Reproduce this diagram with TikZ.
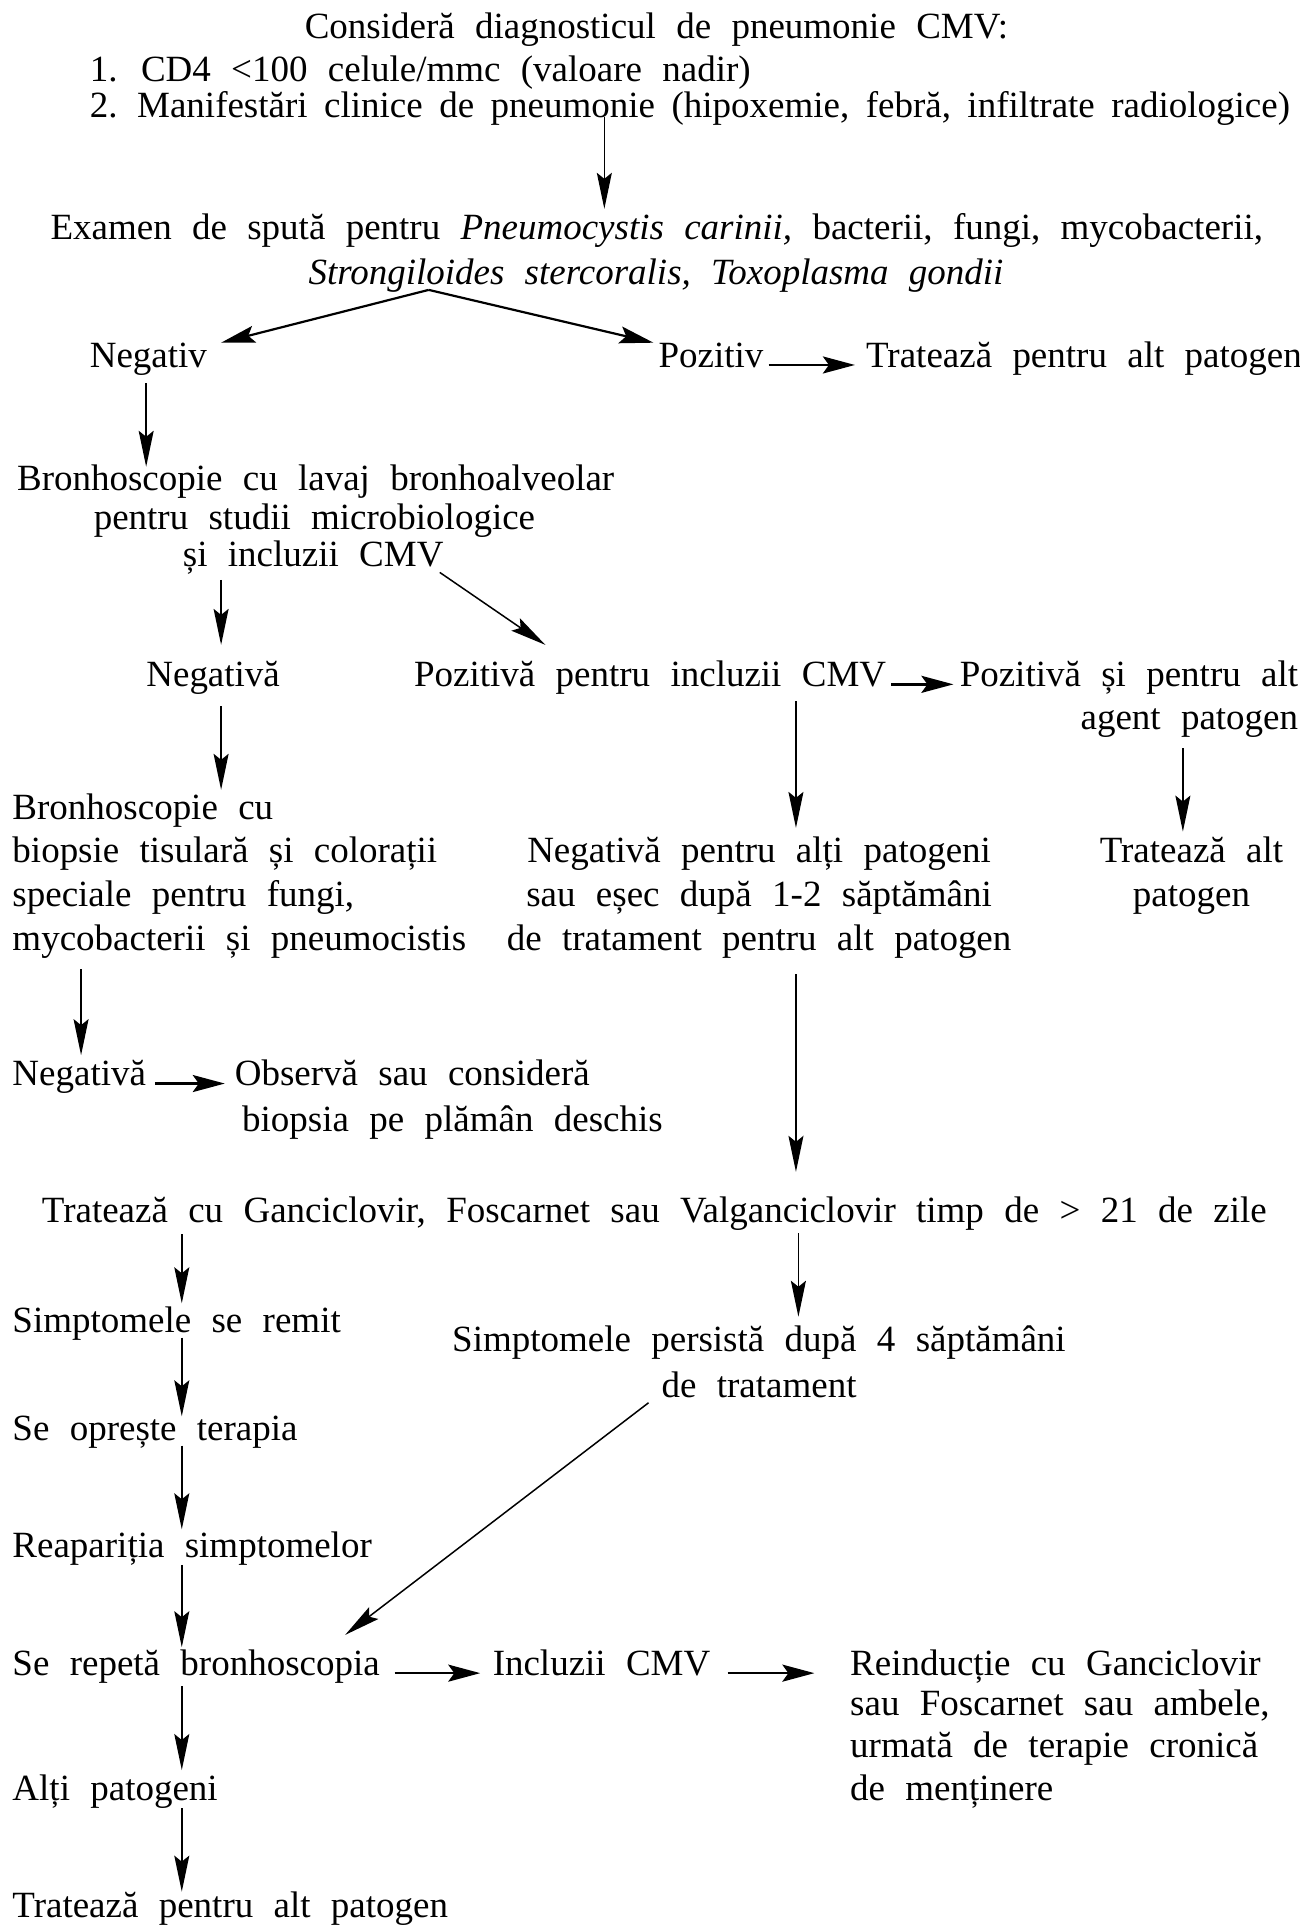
\documentclass[tikz,border=0pt]{standalone}
\usepackage{fontspec}
\setmainfont{Liberation Serif}[WordSpace=2.2]
\usetikzlibrary{arrows.meta,calc}
\begin{document}
\begin{tikzpicture}[x=1.2287pt,y=-1.2287pt,
  font=\fontsize{37}{44}\selectfont,
  tl/.style={inner sep=0pt,anchor=base west},
  tc/.style={inner sep=0pt,anchor=base},
  tr/.style={inner sep=0pt,anchor=base east},
  arr/.style={line width=1.5pt,-{Stealth[length=36pt,width=15pt,inset=6pt]}},
  varr/.style={line width=2.2pt,-{Stealth[length=34pt,width=17pt,inset=6pt]}},
  harr/.style={line width=2.6pt,-{Stealth[length=32pt,width=17pt,inset=6pt]}}]
\fill[white] (0,0) rectangle (1058,1568);
\useasboundingbox (0,0) rectangle (1058,1568);

% header
\node[tl] (l1) at (248,31) {Consideră diagnosticul de pneumonie CMV:};
\node[tl] (l2) at (73,66) {1. CD4 <100 celule/mmc (valoare nadir)};
\node[tl] (l3) at (73,96) {\spaceskip=16.5pt plus 2pt minus 2pt\relax
  2. Manifestări clinice de pneumonie (hipoxemie, febră, infiltrate radiologice)};

% sputum exam
\node[tl] (e1) at (41,195) {Examen de spută pentru \textit{Pneumocystis carinii,} bacterii, fungi, mycobacterii,};
\node[tl] (e2) at (251,232) {\textit{Strongiloides stercoralis, Toxoplasma gondii}};

\node[tl] (neg1) at (73,299) {Negativ};
\node[tl] (poz1) at (536,299) {Pozitiv};
\node[tl] (trat1) at (705,299) {Tratează pentru alt patogen};

% lavage
\node[tc] (b1) at (257,399) {Bronhoscopie cu lavaj bronhoalveolar};
\node[tc] (b2) at (256,431) {pentru studii microbiologice};
\node[tc] (b3) at (255,461) {și incluzii CMV};

\node[tl] (neg2) at (119,559) {Negativă};
\node[tl] (poz2) at (337,559) {Pozitivă pentru incluzii CMV};
\node[tr] (poz3) at (1057,559) {Pozitivă și pentru alt};
\node[tr] (agent) at (1057,594) {agent patogen};

% biopsy
\node[tl] (bx1) at (10,667) {Bronhoscopie cu};
\node[tl] (bx2) at (10,702) {biopsie tisulară și colorații};
\node[tl] (bx3) at (10,738) {speciale pentru fungi,};
\node[tl] (bx4) at (10,774) {mycobacterii și pneumocistis};

\node[tc] (m1) at (618,702) {Negativă pentru alți patogeni};
\node[tc] (m2) at (618,738) {sau eșec după 1-2 săptămâni};
\node[tc] (m3) at (618,774) {de tratament pentru alt patogen};

\node[tc] (r1) at (970,702) {Tratează alt};
\node[tc] (r2) at (970,738) {patogen};

\node[tl] (neg3) at (10,884) {Negativă};
\node[tl] (obs1) at (191,884) {Observă sau consideră};
\node[tl] (obs2) at (197,921) {biopsia pe plămân deschis};

% treatment
\node[tl] (tg) at (34,995) {Tratează cu Ganciclovir, Foscarnet sau Valganciclovir timp de > 21 de zile};

\node[tl] (rem) at (10,1085) {Simptomele se remit};
\node[tl] (pers1) at (368,1100) {Simptomele persistă după 4 săptămâni};
\node[tc] (pers2) at (618,1138) {de tratament};
\node[tl] (stop) at (10,1173) {Se oprește terapia};
\node[tl] (reap) at (10,1268) {Reapariția simptomelor};
\node[tl] (rep) at (10,1364) {Se repetă bronhoscopia};
\node[tl] (incl) at (401,1364) {Incluzii CMV};
\node[tl] (rei1) at (692,1364) {Reinducție cu Ganciclovir};
\node[tl] (rei2) at (692,1397) {sau Foscarnet sau ambele,};
\node[tl] (rei3) at (692,1431) {urmată de terapie cronică};
\node[tl] (rei4) at (692,1466) {de menținere};
\node[tl] (alti) at (10,1466) {Alți patogeni};
\node[tl] (tpa) at (10,1561) {Tratează pentru alt patogen};

% connectors
\draw[arr] ($(l3.base west)+(419,-1)$) -- ($(e1.base west)+(451,-25)$);
\draw[varr] ($(e2.base west)+(98,4)$) -- ($(neg1.base west)+(107,-20)$);
\draw[varr] ($(e2.base west)+(98,4)$) -- ($(poz1.base west)+(-4,-20)$);
\draw[harr] ($(poz1.mid east)+(4,0)$) -- ($(trat1.mid west)+(-9,0)$);
\draw[arr] ($(neg1.base west)+(46,13)$) -- ($(b1.base)+(-138,-19)$);
\draw[arr] ($(b3.base)+(-75,11)$) -- ($(neg2.base west)+(61,-34)$);
\draw[arr] ($(b3.base)+(103,5)$) -- ($(poz2.base west)+(107,-34)$);
\draw[harr] ($(poz2.mid east)+(4,0)$) -- ($(poz3.mid west)+(-5,0)$);
\draw[arr] ($(neg2.base west)+(61,16)$) -- ($(bx1.base west)+(170,-24)$);
\draw[arr] ($(poz2.base west)+(311,12)$) -- ($(m1.base)+(30,-28)$);
\draw[arr] ($(agent.base east)+(-94,15)$) -- ($(r1.base)+(-7,-25)$);
\draw[arr] ($(bx4.base west)+(56,15)$) -- ($(neg3.base west)+(56,-25)$);
\draw[harr] ($(neg3.mid east)+(7,0)$) -- ($(obs1.mid west)+(-8,0)$);
\draw[arr] ($(m3.base)+(30,19)$) -- ($(tg.base west)+(614,-41)$);
\draw[arr] ($(tg.base west)+(114,10)$) -- ($(rem.base west)+(138,-24)$);
\draw[arr] ($(tg.base west)+(616,9)$) -- ($(pers1.base west)+(282,-28)$);
\draw[arr] ($(rem.base west)+(138,4)$) -- ($(stop.base west)+(138,-20)$);
\draw[arr] ($(stop.base west)+(138,4)$) -- ($(reap.base west)+(138,-23)$);
\draw[arr] ($(reap.base west)+(138,6)$) -- ($(rep.base west)+(138,-23)$);
\draw[arr] ($(pers2.base)+(-90,4)$) -- ($(rep.base west)+(271,-33)$);
\draw[harr] ($(rep.mid east)+(12,0)$) -- ($(incl.mid west)+(-10,0)$);
\draw[harr] ($(incl.mid east)+(14,0)$) -- ($(rei1.mid west)+(-29,0)$);
\draw[arr] ($(rep.base west)+(138,9)$) -- ($(alti.base west)+(138,-25)$);
\draw[arr] ($(alti.base west)+(138,6)$) -- ($(tpa.base west)+(138,-21)$);
\end{tikzpicture}
\end{document}
